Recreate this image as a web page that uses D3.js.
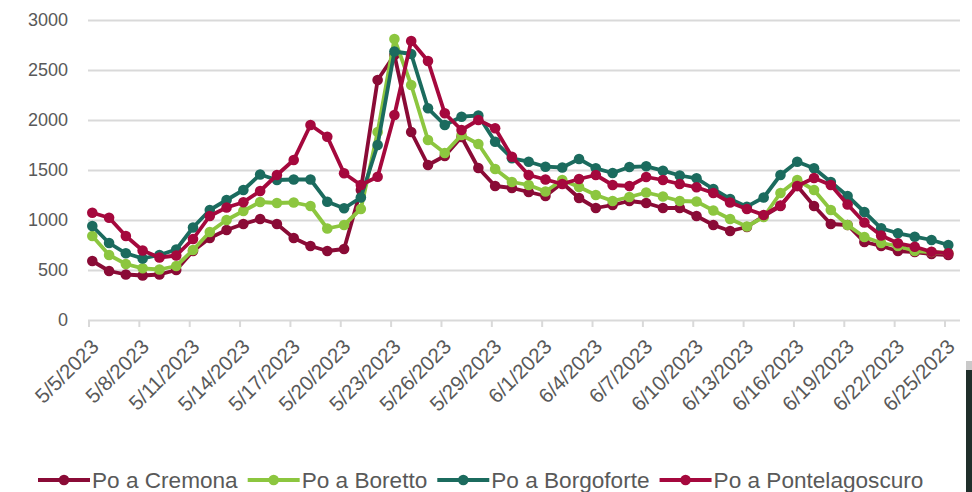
<!DOCTYPE html>
<html>
<head>
<meta charset="utf-8">
<script src="https://cdn.jsdelivr.net/npm/d3@7"></script>
<style>
  body { margin: 0; background: #fff; }
  text { font-family: "Liberation Sans", Arial, sans-serif; fill: #595959; }
</style>
</head>
<body>
<div id="vis"></div>
<script>
const WIDTH = 972;
const HEIGHT = 492;

// daily readings from 5/5/2023 to 6/25/2023
const START = new Date(2023, 4, 5);
const dates = d3.range(52).map(i => d3.timeDay.offset(START, i));

const cremona = [590, 490, 455, 445, 455, 500, 690, 820, 900, 960,
  1010, 960, 820, 740, 690, 710, 1300, 2400, 2650, 1880,
  1550, 1640, 1830, 1520, 1340, 1320, 1280, 1240, 1370, 1220,
  1120, 1150, 1190, 1170, 1120, 1120, 1040, 950, 890, 930,
  1040, 1140, 1340, 1140, 960, 950, 780, 740, 690, 680,
  660, 650];

const boretto = [840, 650, 560, 517, 505, 540, 700, 880, 1000, 1090,
  1180, 1170, 1175, 1140, 915, 950, 1110, 1880, 2810, 2350,
  1800, 1670, 1850, 1760, 1510, 1380, 1350, 1285, 1400, 1330,
  1250, 1190, 1230, 1275, 1235, 1190, 1185, 1095, 1010, 935,
  1030, 1270, 1400, 1300, 1100, 950, 830, 770, 740, 690,
  680, 670];

const borgoforte = [940, 770, 667, 615, 650, 705, 925, 1100, 1200, 1300,
  1455, 1400, 1405, 1405, 1183, 1117, 1225, 1750, 2685, 2660,
  2117, 1950, 2033, 2045, 1783, 1617, 1583, 1533, 1525, 1610,
  1517, 1470, 1530, 1537, 1493, 1445, 1417, 1310, 1210, 1133,
  1225, 1450, 1583, 1517, 1380, 1240, 1080, 917, 867, 833,
  800, 750];

const pontelagoscuro = [1073, 1023, 840, 695, 625, 645, 810, 1040, 1125, 1178,
  1290, 1450, 1600, 1950, 1833, 1467, 1350, 1433, 2050, 2790,
  2590, 2067, 1900, 2000, 1917, 1633, 1450, 1405, 1360, 1410,
  1450, 1350, 1340, 1430, 1400, 1360, 1327, 1270, 1175, 1110,
  1050, 1145, 1340, 1420, 1350, 1155, 975, 845, 767, 733,
  683, 667];

const seriesNames = ["Po a Cremona", "Po a Boretto", "Po a Borgoforte", "Po a Pontelagoscuro"];
const seriesColors = ["#8a0b36", "#8cc63f", "#1b6b5e", "#a5083d"];
const seriesValues = [cremona, boretto, borgoforte, pontelagoscuro];

const yTicks = [0, 500, 1000, 1500, 2000, 2500, 3000];

const svg = d3.select("#vis").append("svg")
  .attr("width", WIDTH)
  .attr("height", HEIGHT);

const x = d3.scaleTime()
  .domain([START, dates[dates.length - 1]])
  .range([92.3, 948.3]);

const y = d3.scaleLinear()
  .domain([0, 3000])
  .range([320, 20]);

const PLOT_LEFT = 88;
const PLOT_RIGHT = 960;

// grid lines + y labels
const yAxis = svg.append("g")
  .attr("transform", `translate(${PLOT_LEFT},0)`)
  .call(d3.axisLeft(y).tickValues(yTicks).tickFormat(d3.format("d"))
    .tickSize(-(PLOT_RIGHT - PLOT_LEFT)).tickPadding(20));
yAxis.select(".domain").remove();
yAxis.selectAll("line").attr("stroke", "#d9d9d9").attr("stroke-width", 2);
yAxis.selectAll("text")
  .style("font-size", "18px")
  .attr("fill", "#595959");

// x axis (ticks sit a few px left of the points in the original)
const tickDates = dates.filter((d, i) => i % 3 === 0);
const fmt = d3.timeFormat("%-m/%-d/%Y");
const xAxis = svg.append("g")
  .attr("transform", "translate(-3.8,320)")
  .call(d3.axisBottom(x).tickValues(tickDates).tickFormat(fmt).tickSize(7).tickSizeOuter(0));
xAxis.select(".domain").remove();
xAxis.selectAll("line").attr("stroke", "#d9d9d9").attr("stroke-width", 2);
xAxis.selectAll("text")
  .attr("y", 0)
  .attr("dy", 0)
  .attr("text-anchor", "end")
  .attr("transform", "translate(11,28) rotate(-45)")
  .style("font-size", "20.5px")
  .attr("fill", "#595959");

// series
const line = d3.line()
  .x((d, i) => x(dates[i]))
  .y(d => y(d));

seriesValues.forEach((vals, k) => {
  const g = svg.append("g");
  g.append("path")
    .datum(vals)
    .attr("d", line)
    .attr("fill", "none")
    .attr("stroke", seriesColors[k])
    .attr("stroke-width", 3.8)
    .attr("stroke-linejoin", "round");
  g.selectAll("circle")
    .data(vals)
    .enter()
    .append("circle")
    .attr("cx", (d, i) => x(dates[i]))
    .attr("cy", d => y(d))
    .attr("r", 5.3)
    .attr("fill", seriesColors[k]);
});

// legend
const legend = svg.append("g").attr("transform", "translate(38,480)");
let lx = 0;
seriesNames.forEach((name, k) => {
  const item = legend.append("g").attr("transform", `translate(${lx},0)`);
  item.append("line")
    .attr("x1", 0).attr("x2", 52)
    .attr("stroke", seriesColors[k])
    .attr("stroke-width", 3.8);
  item.append("circle")
    .attr("cx", 26).attr("r", 5.3)
    .attr("fill", seriesColors[k]);
  const t = item.append("text")
    .attr("x", 54)
    .attr("dy", "0.35em")
    .style("font-size", "22.6px")
    .text(name);
  lx += 54 + t.node().getComputedTextLength() + 10;
});

// dark strip at the right edge of the original screenshot
svg.append("rect").attr("x", 966).attr("y", 361).attr("width", 6).attr("height", 9).attr("fill", "#c9c9c9");
svg.append("rect").attr("x", 966).attr("y", 370).attr("width", 6).attr("height", 122).attr("fill", "#1f2e2a");
</script>
</body>
</html>
